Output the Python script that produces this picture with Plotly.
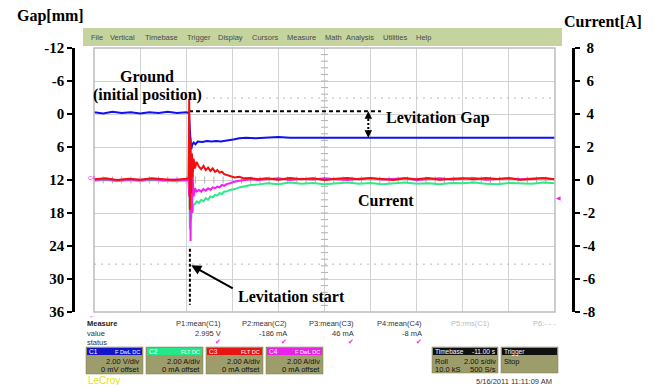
import plotly.graph_objects as go

W, H = 655, 385

# ---- time base (s) and traces ------------------------------------------
gap_t = [0.0, 0.4, 0.8, 1.2, 1.6, 2.0, 2.4, 2.8, 3.2, 3.6, 4.0,
         4.12, 4.16, 4.22, 4.26, 4.32, 4.4, 4.5,
         4.7, 4.9, 5.1, 5.3, 5.5, 5.7, 5.9, 6.1, 6.3,
         6.6, 7.0,
         7.5, 8.0, 8.5, 9.0, 9.5, 10.0, 10.5, 11.0, 11.5, 12.0, 12.5, 13.0, 13.5,
         14.0, 14.5, 15.0, 15.5, 16.0, 16.5, 17.0, 17.5, 18.0, 18.5, 19.0, 19.5, 20.0]
gap_mm = [-0.3, -0.1, -0.4, -0.2, -0.3, -0.1, -0.3, -0.2, -0.4, -0.2, -0.3,
          -0.2, 3.0, 6.4, 5.6, 5.2, 5.5, 5.0,
          5.1, 4.9, 5.0, 4.9, 5.0, 4.9, 4.8, 4.6, 4.4,
          4.3, 4.4,
          4.3, 4.2, 4.3, 4.3, 4.2, 4.3, 4.2, 4.3, 4.2, 4.3, 4.3, 4.2, 4.3,
          4.2, 4.3, 4.2, 4.3, 4.3, 4.2, 4.3, 4.2, 4.3, 4.2, 4.3, 4.2, 4.3]

cur_t = [0.0, 0.5, 1.0, 1.5, 2.0, 2.5, 3.0, 3.5, 4.0,
         4.1, 4.13, 4.16, 4.19, 4.22, 4.25, 4.28, 4.32,
         4.38, 4.45,
         4.55, 4.65, 4.75, 4.85, 4.95, 5.05, 5.15, 5.25, 5.35, 5.45, 5.55, 5.65,
         5.75, 5.9, 6.1, 6.3, 6.5, 6.8, 7.1,
         7.5, 8.0, 8.5, 9.0, 9.5, 10.0, 10.5, 11.0, 11.5, 12.0, 12.5, 13.0, 13.5,
         14.0, 14.5, 15.0, 15.5, 16.0, 16.5, 17.0, 17.5, 18.0, 18.5, 19.0, 19.5, 20.0]
cur_c2 = [-0.05, 0.0, -0.08, -0.02, -0.06, 0.0, -0.05, -0.08, -0.03,
          -0.05, 0.5, -3.0, -1.0, -2.4, -1.2, -2.0, -1.5,
          -1.45, -1.3,
          -1.4, -1.2, -1.3, -1.1, -1.2, -1.0, -1.05, -0.9, -0.95, -0.8, -0.85, -0.7,
          -0.7, -0.6, -0.55, -0.45, -0.4, -0.3, -0.28,
          -0.2, -0.25, -0.15, -0.22, -0.18, -0.25, -0.2, -0.15, -0.22, -0.18, -0.25, -0.2, -0.15,
          -0.22, -0.2, -0.25, -0.18, -0.2, -0.15, -0.22, -0.25, -0.18, -0.2, -0.22, -0.15, -0.2]
cur_c4 = [0.0, 0.05, -0.02, 0.03, 0.0, 0.05, -0.02, 0.03, 0.0,
          0.0, -1.0, 1.5, -3.7, 0.8, -2.0, 0.3, -1.0,
          -0.5, -0.7,
          -0.6, -0.7, -0.55, -0.65, -0.5, -0.6, -0.45, -0.5, -0.4, -0.45, -0.3, -0.35,
          -0.25, -0.2, -0.1, -0.05, 0.0, 0.05, 0.0,
          0.05, 0.1, 0.0, 0.08, 0.03, 0.1, 0.05, 0.0, 0.08, 0.12, 0.03, 0.06, 0.1,
          0.0, 0.05, 0.1, 0.03, 0.08, 0.12, 0.02, 0.06, 0.1, 0.04, 0.08, 0.12, 0.05]
cur_c3 = [0.05, 0.1, 0.0, 0.08, 0.02, 0.1, 0.05, 0.0, 0.08,
          0.1, 4.9, -1.8, 2.5, -0.8, 1.6, 0.2, 1.3,
          0.7, 1.1,
          0.8, 0.65, 0.85, 0.6, 0.75, 0.55, 0.7, 0.5, 0.6, 0.45, 0.5, 0.35,
          0.3, 0.25, 0.15, 0.2, 0.1, 0.12, 0.05,
          0.1, 0.02, 0.12, 0.05, 0.1, 0.0, 0.08, 0.12, 0.04, 0.1, 0.06, 0.0, 0.1,
          0.05, 0.12, 0.02, 0.08, 0.1, 0.04, 0.12, 0.06, 0.1, 0.02, 0.08, 0.1, 0.05]

assert len(gap_t) == len(gap_mm)
assert len(cur_t) == len(cur_c2) == len(cur_c3) == len(cur_c4)

# ---- axis ticks ----------------------------------------------------------
gap_ticks = [-12, -6, 0, 6, 12, 18, 24, 30, 36]
gap_labels = ["-12", "-6", "0", "6", "12", "18", "24", "30", "36"]
cur_ticks = [8, 6, 4, 2, 0, -2, -4, -6, -8]
cur_labels = ["\u00a08", "\u00a06", "\u00a04", "\u00a02", "\u00a00", "-2", "-4", "-6", "-8"]

# annotation reference values
t_start = 4.12        # levitation start
gap_initial = -0.5    # initial (ground) position
gap_final = 4.3       # steady levitation gap
scope_cursor_levels = [-2.9, 27.3]

# scope measure panel
measure_names = ["P1:mean(C1)", "P2:mean(C2)", "P3:mean(C3)", "P4:mean(C4)", "P5:rms(C1)", "P6:- - -"]
measure_values = ["2.995 V", "-186 mA", "46 mA", "-8 mA", "", ""]
channels = ["C1", "C2", "C3", "C4"]
channel_scale = ["2.00 V/div", "2.00 A/div", "2.00 A/div", "2.00 A/div"]
channel_offset = ["0 mV offset", "0 mA offset", "0 mA offset", "0 mA offset"]
channel_badges = ["F DwL DC", "FLT DC", "FLT DC", "F DwL DC"]
menu_items = ["File", "Vertical", "Timebase", "Trigger", "Display", "Cursors",
              "Measure", "Math", "Analysis", "Utilities", "Help"]

C_BLUE, C_GREEN, C_RED, C_MAG = "#1010f0", "#30e888", "#f01010", "#f020f0"
GRID = "#d2d2d2"
SERIF = "Liberation Serif"
SANS = "Liberation Sans"

fig = go.Figure()

# scope cursor dotted levels
for lv in scope_cursor_levels:
    fig.add_trace(go.Scatter(x=[0, 20], y=[lv, lv], mode="lines", yaxis="y",
                             line=dict(color="#b8b8b8", width=1, dash="2px,5px"),
                             hoverinfo="skip"))
# center graticule minor ticks
minor_y = [-12 + 1.2 * k for k in range(41)]
fig.add_trace(go.Scatter(x=[10] * len(minor_y), y=minor_y, mode="markers", yaxis="y",
                         marker=dict(symbol="line-ew", size=5, line=dict(color="#b0b0b0", width=1)),
                         hoverinfo="skip"))
minor_x = [0.4 * k for k in range(51)]
fig.add_trace(go.Scatter(x=minor_x, y=[12] * len(minor_x), mode="markers", yaxis="y",
                         marker=dict(symbol="line-ns", size=5, line=dict(color="#b0b0b0", width=1)),
                         hoverinfo="skip"))

fig.add_trace(go.Scatter(x=gap_t, y=gap_mm, mode="lines", yaxis="y",
                         line=dict(color=C_BLUE, width=2), name="C1"))
fig.add_trace(go.Scatter(x=cur_t, y=cur_c2, mode="lines", yaxis="y2",
                         line=dict(color=C_GREEN, width=2), name="C2"))
fig.add_trace(go.Scatter(x=cur_t, y=cur_c4, mode="lines", yaxis="y2",
                         line=dict(color=C_MAG, width=2), name="C4"))
fig.add_trace(go.Scatter(x=cur_t, y=cur_c3, mode="lines", yaxis="y2",
                         line=dict(color=C_RED, width=2), name="C3"))

# reference dotted lines
fig.add_trace(go.Scatter(x=[t_start, 12.45], y=[gap_initial, gap_initial], mode="lines", yaxis="y",
                         line=dict(color="black", width=2, dash="4px,3px"), hoverinfo="skip"))
fig.add_trace(go.Scatter(x=[11.9, 11.9], y=[gap_initial + 0.7, gap_final - 0.7], mode="lines", yaxis="y",
                         line=dict(color="black", width=2, dash="2px,2px"), hoverinfo="skip"))
fig.add_trace(go.Scatter(x=[t_start + 0.04, t_start + 0.04], y=[24.5, 34.7], mode="lines", yaxis="y",
                         line=dict(color="black", width=2, dash="3px,2px"), hoverinfo="skip"))

tickfont = dict(family=SERIF, size=15, color="black", weight="bold")
common = dict(tickfont=tickfont, tickcolor="black", tickwidth=2, ticklen=5, zeroline=False,
              automargin=False)

fig.update_layout(
    width=W, height=H, margin=dict(l=0, r=0, t=0, b=0, autoexpand=False),
    paper_bgcolor="white", plot_bgcolor="white", showlegend=False,
    xaxis=dict(domain=[94 / W, 555 / W], range=[0, 20], tick0=0, dtick=2,
               showgrid=True, gridcolor=GRID, gridwidth=1.2, showticklabels=False,
               ticks="", zeroline=False, showline=False, automargin=False),
    yaxis=dict(domain=[1 - 312 / H, 1 - 48 / H], range=[36, -12], anchor="free",
               position=73 / W, tickvals=gap_ticks, ticktext=gap_labels, ticks="outside",
               showline=True, linewidth=2.5, linecolor="black", showgrid=True,
               gridcolor=GRID, gridwidth=1.2, **common),
    yaxis2=dict(overlaying="y", side="right", anchor="free", position=573 / W,
                range=[-8, 8], tickvals=cur_ticks, ticktext=cur_labels, ticks="outside",
                showline=True, linewidth=2.5, linecolor="black", showgrid=False, **common),
    yaxis3=dict(overlaying="y", anchor="free", position=73 / W, range=[36, -12],
                tickvals=gap_ticks, ticks="inside", showticklabels=False, showline=False,
                showgrid=False, **common),
    yaxis4=dict(overlaying="y", side="right", anchor="free", position=573 / W,
                range=[-8, 8], tickvals=cur_ticks, ticks="inside", showticklabels=False,
                showline=False, showgrid=False, **common),
)

shapes = []
anns = []


def px(x):
    return x / W


def py(y):
    return 1 - y / H


def rect(x0, y0, x1, y1, fill, line=None, lw=0):
    shapes.append(dict(type="rect", xref="paper", yref="paper", x0=px(x0), x1=px(x1),
                       y0=py(y1), y1=py(y0), fillcolor=fill,
                       line=dict(color=line or fill, width=lw), layer="below"))


def txt(x, y, s, size=7.5, color="#333333", anchor="left", family=SANS, weight="normal"):
    anns.append(dict(xref="paper", yref="paper", x=px(x), y=py(y), text=s, showarrow=False,
                     xanchor=anchor, yanchor="middle", borderpad=0,
                     font=dict(family=family, size=size, color=color, weight=weight)))


# grid border
shapes.append(dict(type="rect", xref="x domain", yref="y domain", x0=0, x1=1, y0=0, y1=1,
                   line=dict(color="#bdbdbd", width=1.5)))

# menu bar
rect(83, 28, 562, 46, "#c5d49e")
menu_x = [90, 109, 144, 186, 217, 251, 286, 324, 345, 382, 415]
for name, mx in zip(menu_items, menu_x):
    txt(mx, 37, name, size=7.5, color="#4a4a4a")

# axis titles
txt(50, 16, "Gap[mm]", size=16, color="black", anchor="center", family=SERIF, weight="bold")
txt(603, 21, "Current[A]", size=16, color="black", anchor="center", family=SERIF, weight="bold")

# chart annotations
txt(147, 77, "Ground", size=16, color="black", anchor="center", family=SERIF, weight="bold")
txt(147, 95, "(initial position)", size=16, color="black", anchor="center", family=SERIF, weight="bold")
txt(438, 118, "Levitation Gap", size=16, color="black", anchor="center", family=SERIF, weight="bold")
txt(386, 201, "Current", size=16, color="black", anchor="center", family=SERIF, weight="bold")
txt(291, 296, "Levitation start", size=16, color="black", anchor="center", family=SERIF, weight="bold")

# arrow heads of the levitation-gap marker
for tip, off in [(gap_initial, 9), (gap_final, -9)]:
    anns.append(dict(xref="x", yref="y", x=11.9, y=tip, ax=0, ay=off, text="", showarrow=True,
                     arrowhead=2, arrowsize=1, arrowwidth=1.5, arrowcolor="black"))
# arrow to levitation start
anns.append(dict(xref="x", yref="y", x=t_start + 0.1, y=27.5, ax=43, ay=24, text="", showarrow=True,
                 arrowhead=2, arrowsize=1, arrowwidth=2, arrowcolor="black"))

# channel markers on the graticule
txt(87, 178, "C4", size=5.5, color=C_MAG)
txt(558, 198, "\u25c0", size=6, color=C_MAG, anchor="center")
txt(92, 315, "\u2190", size=7, color=C_MAG, anchor="center")

# measure table
txt(86, 323, "Measure", size=7.5, color="#222222", weight="bold")
txt(86, 333, "value", size=7.5)
txt(86, 342, "status", size=7.5)
meas_right = [222, 288, 355, 423, 491, 557]
for i, (nm, val, xr) in enumerate(zip(measure_names, measure_values, meas_right)):
    col = "#333333" if i < 4 else "#bbbbbb"
    txt(xr, 323, nm, size=7.5, color=col, anchor="right")
    if val:
        txt(xr, 333, val, size=7.5, color=col, anchor="right")
        txt(xr - 4, 342, "\u2714", size=7, color=C_MAG, anchor="center", family="DejaVu Sans")

# channel boxes
box_x = [86, 146, 206, 266]
head_cols = ["#1414c8", "#22e888", "#e81414", "#e822e8"]
BODY = "#9d9d6c"
for ch, sc, off, bd, bx, hc in zip(channels, channel_scale, channel_offset, channel_badges,
                                   box_x, head_cols):
    rect(bx, 347, bx + 57, 374, BODY, "#7a7a50", 0.5)
    rect(bx + 1, 348, bx + 56, 355, hc)
    txt(bx + 2, 351.5, ch, size=6.5, color="white")
    txt(bx + 55, 351.5, bd, size=5.5, color="white", anchor="right")
    txt(bx + 55, 361, sc, size=7.5, color="#111111", anchor="right")
    txt(bx + 55, 369, off, size=7.5, color="#111111", anchor="right")

# timebase / trigger boxes
rect(432, 347, 498, 373, BODY, "#7a7a50", 0.5)
rect(433, 348, 497, 355, "#101010")
txt(434, 351.5, "Timebase", size=6.5, color="white")
txt(497, 351.5, "-11.00 s", size=6.5, color="white", anchor="right")
txt(434, 361, "Roll", size=7.5, color="#111111")
txt(497, 361, "2.00 s/div", size=7.5, color="#111111", anchor="right")
txt(434, 369, "10.0 kS", size=7.5, color="#111111")
txt(497, 369, "500 S/s", size=7.5, color="#111111", anchor="right")
rect(501, 347, 558, 373, BODY, "#7a7a50", 0.5)
rect(502, 348, 557, 355, "#101010")
txt(503, 351.5, "Trigger", size=6.5, color="white")
txt(503, 361, "Stop", size=7.5, color="#111111")

txt(87, 380, "<u>LeCroy</u>", size=10, color="#e8e010")
txt(553, 381, "5/16/2011 11:11:09 AM", size=7.5, color="#333333", anchor="right")

fig.update_layout(shapes=shapes, annotations=anns)
fig.write_html("out.html")
